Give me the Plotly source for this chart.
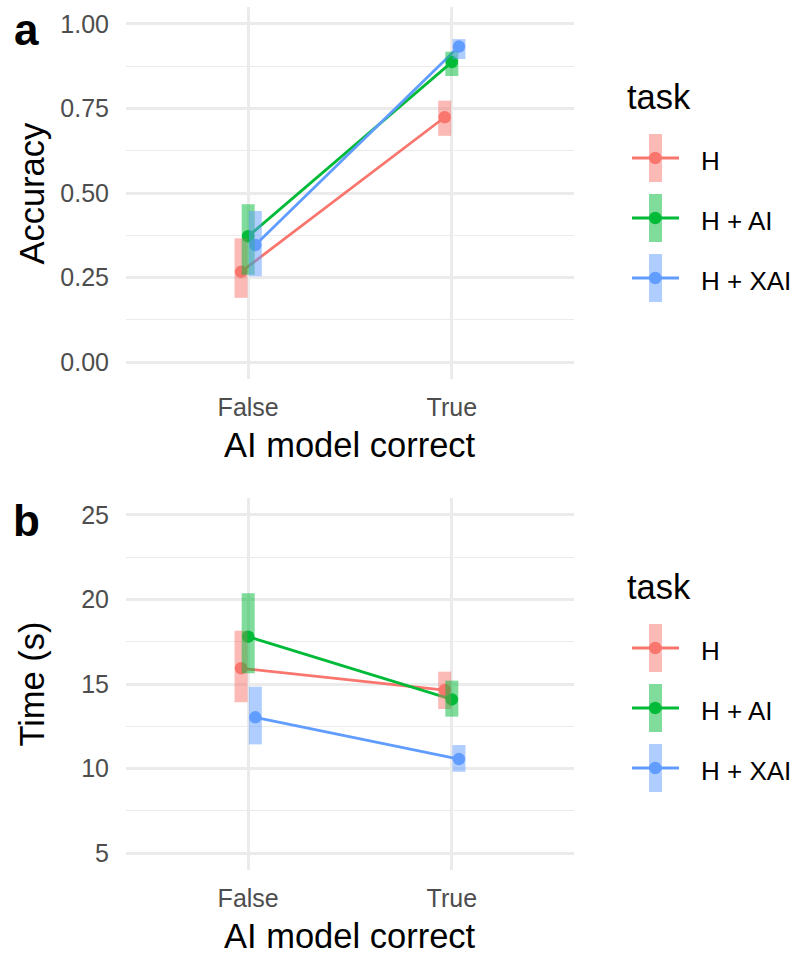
import plotly.graph_objects as go

# ---------------- data ----------------
categories = ["False", "True"]
tasks = ["H", "H + AI", "H + XAI"]
colors = ["#F8766D", "#00BA38", "#619CFF"]
fills = ["rgba(248,118,109,0.5)", "rgba(0,186,56,0.5)", "rgba(97,156,255,0.5)"]

# Accuracy (panel a): per task, values for [False, True]
acc_mean = [[0.267, 0.724], [0.372, 0.887], [0.346, 0.933]]
acc_low = [[0.190, 0.669], [0.258, 0.846], [0.254, 0.896]]
acc_high = [[0.366, 0.773], [0.467, 0.918], [0.447, 0.955]]
acc_ticks = [0.0, 0.25, 0.5, 0.75, 1.0]
acc_ticktext = ["0.00", "0.25", "0.50", "0.75", "1.00"]

# Time (panel b)
time_mean = [[15.93, 14.64], [17.80, 14.09], [13.03, 10.56]]
time_low = [[13.92, 13.52], [15.63, 13.07], [11.43, 9.81]]
time_high = [[18.15, 15.73], [20.36, 15.20], [14.84, 11.39]]
time_ticks = [5, 10, 15, 20, 25]

# ---------------- layout helpers ----------------
W, H = 800, 954
FONT = "Liberation Sans, Arial, sans-serif"
def X(px):
    return px / W
def Y(py):
    return 1 - py / H

dodge = [-0.035, 0.0, 0.035]
xpos = [1, 2]
BAR_W = 13  # px
GRID = "#EBEBEB"

fig = go.Figure()

panels = [
    (acc_mean, acc_low, acc_high, "x", "y"),
    (time_mean, time_low, time_high, "x2", "y2"),
]

for mean, low, high, xa, ya in panels:
    for k in range(len(tasks)):
        xs = [p + dodge[k] for p in xpos]
        fig.add_trace(go.Scatter(
            x=xs, y=mean[k], mode="lines+markers", xaxis=xa, yaxis=ya,
            line=dict(color=colors[k], width=2.8),
            marker=dict(color=colors[k], size=12.5),
            showlegend=False, hoverinfo="skip"))
    for k in range(len(tasks)):
        bx, by = [], []
        for i, p in enumerate(xpos):
            bx += [p + dodge[k], p + dodge[k], None]
            by += [low[k][i], high[k][i], None]
        fig.add_trace(go.Scatter(
            x=bx, y=by, mode="lines", xaxis=xa, yaxis=ya,
            line=dict(color=fills[k], width=BAR_W),
            showlegend=False, hoverinfo="skip"))

xdom = [X(126), X(574)]
xaxis_common = dict(
    domain=xdom, range=[0.4, 2.6], tickvals=xpos, ticktext=categories,
    showgrid=True, gridcolor=GRID, gridwidth=2.5, zeroline=False,
    showline=False, ticks="", ticklabelstandoff=11,
    tickfont=dict(family=FONT, size=25, color="#4D4D4D"), fixedrange=True)

fig.update_layout(
    width=W, height=H, margin=dict(l=0, r=0, t=0, b=0),
    paper_bgcolor="white", plot_bgcolor="white",
    font=dict(family=FONT),
    xaxis=dict(anchor="y", **xaxis_common),
    xaxis2=dict(anchor="y2", **xaxis_common),
    yaxis=dict(
        domain=[Y(379), Y(7)], anchor="x", range=[-0.05, 1.05],
        tickvals=acc_ticks, ticktext=acc_ticktext,
        showgrid=True, gridcolor=GRID, gridwidth=2.5, zeroline=False,
        ticks="", ticklabelstandoff=16,
        tickfont=dict(family=FONT, size=25, color="#4D4D4D"),
        minor=dict(dtick=0.125, tick0=0, showgrid=True, gridcolor=GRID, gridwidth=1.3),
    ),
    yaxis2=dict(
        domain=[Y(870), Y(498)], anchor="x2", range=[4, 26],
        tickvals=time_ticks,
        showgrid=True, gridcolor=GRID, gridwidth=2.5, zeroline=False,
        ticks="", ticklabelstandoff=16,
        tickfont=dict(family=FONT, size=25, color="#4D4D4D"),
        minor=dict(dtick=2.5, tick0=0, showgrid=True, gridcolor=GRID, gridwidth=1.3),
    ),
)

ann = []
# panel letters
ann.append(dict(text="<b>a</b>", x=X(26), y=Y(30), xref="paper", yref="paper",
                showarrow=False, xanchor="center", yanchor="middle",
                font=dict(family=FONT, size=44, color="black")))
ann.append(dict(text="<b>b</b>", x=X(26), y=Y(520), xref="paper", yref="paper",
                showarrow=False, xanchor="center", yanchor="middle",
                font=dict(family=FONT, size=44, color="black")))
# axis titles
title_font = dict(family=FONT, size=34.5, color="black")
for txt, cy in [("AI model correct", 444.6), ("AI model correct", 935.6)]:
    ann.append(dict(text=txt, x=X(350), y=Y(cy), xref="paper", yref="paper",
                    showarrow=False, xanchor="center", yanchor="middle", font=title_font))
for txt, cy in [("Accuracy", 193), ("Time (s)", 684)]:
    ann.append(dict(text=txt, x=X(31.6), y=Y(cy), xref="paper", yref="paper",
                    showarrow=False, xanchor="center", yanchor="middle",
                    textangle=-90, font=title_font))

# custom legends (line + point + translucent bar keys)
shapes = []
for title_cy, first_key in [(96.6, 158), (586.6, 648)]:
    ann.append(dict(text="task", x=X(625), y=Y(title_cy), xref="paper", yref="paper",
                    showarrow=False, xanchor="left", yanchor="middle", font=title_font))
    for k, name in enumerate(tasks):
        cy = first_key + 60 * k
        shapes.append(dict(type="line", xref="paper", yref="paper",
                           x0=X(632), x1=X(679), y0=Y(cy), y1=Y(cy),
                           line=dict(color=colors[k], width=2.8)))
        shapes.append(dict(type="circle", xref="paper", yref="paper",
                           x0=X(649), x1=X(661.5), y0=Y(cy - 6.25), y1=Y(cy + 6.25),
                           fillcolor=colors[k], line=dict(width=0)))
        shapes.append(dict(type="rect", xref="paper", yref="paper",
                           x0=X(649), x1=X(662), y0=Y(cy - 24), y1=Y(cy + 24),
                           fillcolor=fills[k], line=dict(width=0)))
        ann.append(dict(text=name, x=X(699), y=Y(cy + 3), xref="paper", yref="paper",
                        showarrow=False, xanchor="left", yanchor="middle",
                        font=dict(family=FONT, size=26, color="black")))

fig.update_layout(annotations=ann, shapes=shapes)
fig.write_html("out.html")
